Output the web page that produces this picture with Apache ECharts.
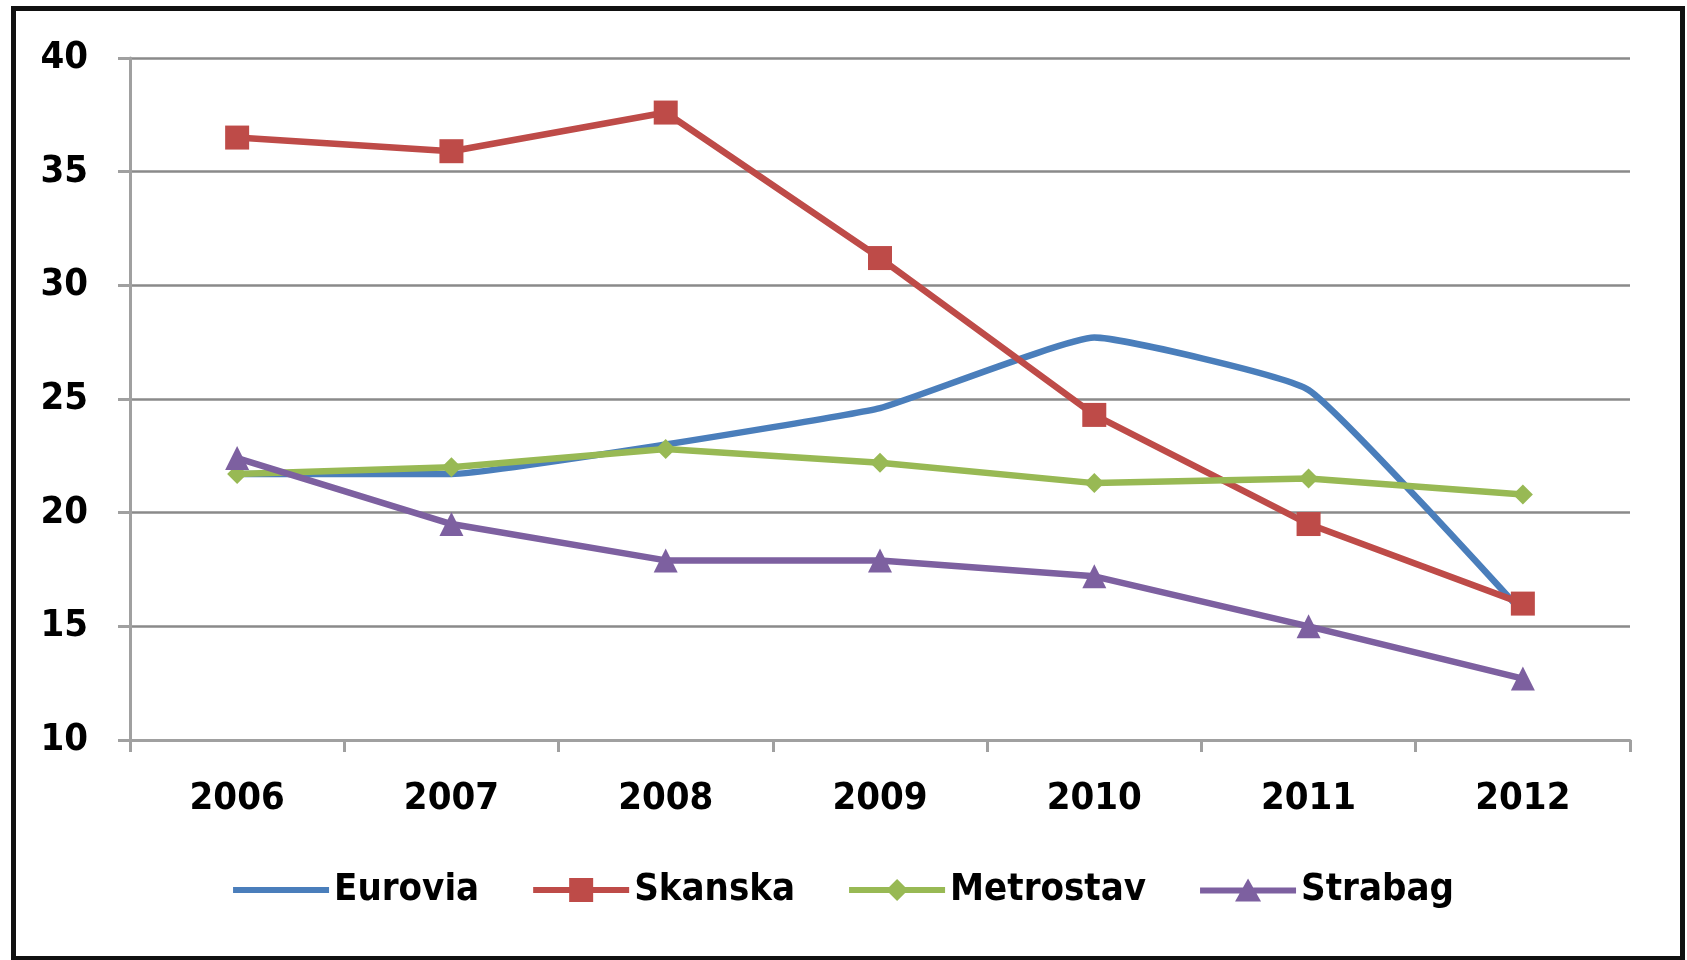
<!DOCTYPE html>
<html>
<head>
<meta charset="utf-8">
<script src="https://cdn.jsdelivr.net/npm/echarts@6/dist/echarts.min.js"></script>
<style>
html,body{margin:0;padding:0;background:#fff;}
#chart{width:1687px;height:960px;}
</style>
</head>
<body>
<div id="chart"></div>
<script>
const years = ['2006','2007','2008','2009','2010','2011','2012'];
const eurovia   = [21.7, 21.7, 23.0, 24.6, 27.7, 25.4, 15.6];
const skanska   = [36.5, 35.9, 37.6, 31.2, 24.3, 19.5, 16.0];
const metrostav = [21.7, 22.0, 22.8, 22.2, 21.3, 21.5, 20.8];
const strabag   = [22.4, 19.5, 17.9, 17.9, 17.2, 15.0, 12.7];
const yTicks = [10, 15, 20, 25, 30, 35, 40];

const FONT = '"DejaVu Sans Condensed", "DejaVu Sans", sans-serif';
const LINE = 'M0,9L96,9L96,15L0,15Z';
const icons = {
  Eurovia: 'path://' + LINE,
  Skanska: 'path://' + LINE + ' M36,0L60,0L60,24L36,24Z',
  Metrostav: 'path://' + LINE + ' M48,1L59,12L48,23L37,12Z',
  Strabag: 'path://' + LINE + ' M48,0L61,23L35,23Z'
};
const chart = echarts.init(document.getElementById('chart'), null, {renderer:'canvas'});
chart.setOption({
  animation: false,
  backgroundColor: '#fff',
  graphic: [{
    type: 'rect', left: 11, top: 6,
    shape: {x: 0, y: 0, width: 1669, height: 950},
    style: {fill: 'none', stroke: '#111', lineWidth: 5}, z: 100
  }],
  grid: {left: 130, right: 57, top: 58, bottom: 220},
  legend: {
    bottom: 46, left: 'center',
    itemWidth: 96, itemHeight: 24, itemGap: 54,
    textStyle: {fontFamily: FONT, fontWeight: 'bold', fontSize: 38, color: '#000'},
    data: ['Eurovia', 'Skanska', 'Metrostav', 'Strabag'].map(n => ({name: n, icon: icons[n]}))
  },
  xAxis: {
    type: 'category', data: years, boundaryGap: true,
    axisLine: {lineStyle: {color: '#a0a0a0', width: 3}},
    axisTick: {show: true, length: 12, lineStyle: {color: '#a0a0a0', width: 3}},
    axisLabel: {margin: 40, fontFamily: FONT, fontWeight: 'bold', fontSize: 38, color: '#000'}
  },
  yAxis: {
    type: 'value', min: yTicks[0], max: yTicks[yTicks.length-1], interval: 5,
    axisLine: {show: true, lineStyle: {color: '#a0a0a0', width: 3}},
    axisTick: {show: true, length: 12, lineStyle: {color: '#a0a0a0', width: 3}},
    splitLine: {lineStyle: {color: '#8a8a8a', width: 2.5}},
    axisLabel: {margin: 42, fontFamily: FONT, fontWeight: 'bold', fontSize: 38, color: '#000'}
  },
  series: [
    {name: 'Eurovia', type: 'line', data: eurovia, symbol: 'none', smooth: 0.12,
     lineStyle: {color: '#4a7ebb', width: 6.5}, itemStyle: {color: '#4a7ebb'}},
    {name: 'Skanska', type: 'line', data: skanska, symbol: 'rect', symbolSize: 24,
     lineStyle: {color: '#be4b48', width: 6.5}, itemStyle: {color: '#be4b48'}},
    {name: 'Metrostav', type: 'line', data: metrostav, symbol: 'diamond', symbolSize: 20,
     lineStyle: {color: '#98b954', width: 6.5}, itemStyle: {color: '#98b954'}},
    {name: 'Strabag', type: 'line', data: strabag, symbol: 'triangle', symbolSize: 24,
     lineStyle: {color: '#7d60a0', width: 6.5}, itemStyle: {color: '#7d60a0'}}
  ]
});
</script>
</body>
</html>
